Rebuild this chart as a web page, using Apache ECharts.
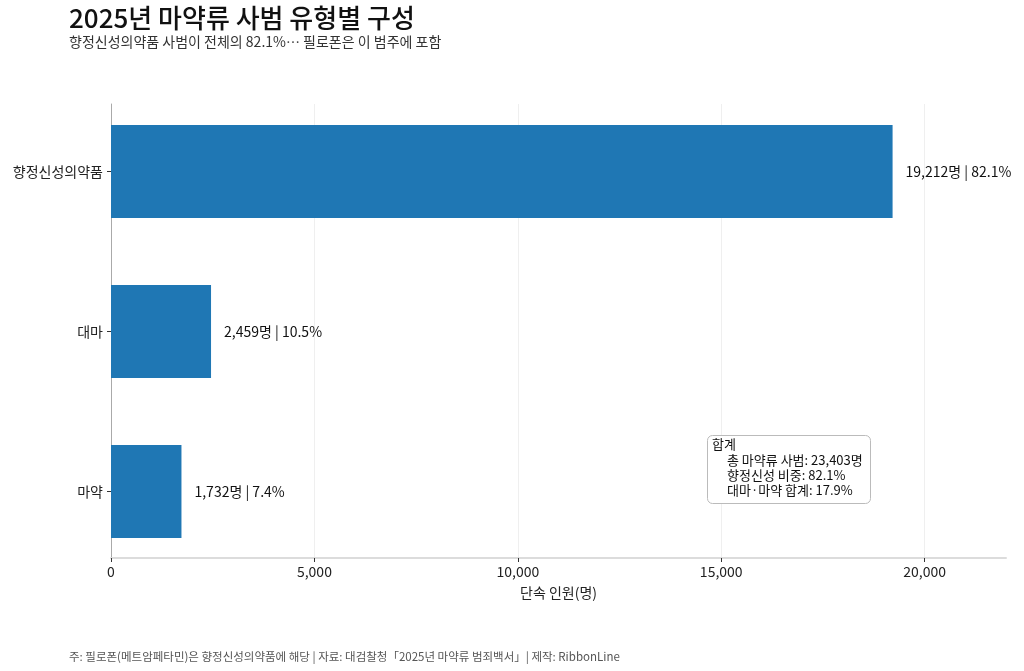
<html>
<head>
    <meta charset="utf-8" />
    <title>2025년 마약류 사범 유형별 구성</title>
    <script src="https://cdn.jsdelivr.net/npm/echarts@6/dist/echarts.min.js"></script>
    <style>
        body { margin: 0; background: #fff; }
        #chart { width: 1024px; height: 671px; }
    </style>
</head>
<body>
    <div id="chart"></div>
    <script type="text/javascript">
        // data (top -> bottom)
        var categories = ['향정신성의약품', '대마', '마약'];
        var offenders = [19212, 2459, 1732];
        var xTicks = [0, 5000, 10000, 15000, 20000];
        var totalOffenders = 23403;
        var noteLines = ['합계', '총 마약류 사범: 23,403명', '향정신성 비중: 82.1%', '대마·마약 합계: 17.9%'];

        var FONT = 'Noto Sans CJK KR';

        function fmt(n) {
            return n.toLocaleString('en-US');
        }

        // category axis goes bottom-up in echarts, so reverse
        var yCats = categories.slice().reverse();
        var yVals = offenders.slice().reverse();

        var chart = echarts.init(document.getElementById('chart'), null, { renderer: 'canvas' });

        var option = {
            backgroundColor: '#fff',
            animation: false,
            textStyle: { fontFamily: FONT },
            title: [
                {
                    text: '2025년 마약류 사범 유형별 구성',
                    subtext: '향정신성의약품 사범이 전체의 82.1%… 필로폰은 이 범주에 포함',
                    left: 64,
                    top: 0,
                    itemGap: 4,
                    textStyle: { fontFamily: FONT, fontSize: 26, fontWeight: 500, color: '#111' },
                    subtextStyle: { fontFamily: FONT, fontSize: 14, color: '#333' }
                },
                {
                    text: '주: 필로폰(메트암페타민)은 향정신성의약품에 해당 | 자료: 대검찰청「2025년 마약류 범죄백서」| 제작: RibbonLine',
                    left: 64,
                    top: 646,
                    textStyle: { fontFamily: FONT, fontSize: 11.5, fontWeight: 'normal', color: '#555' }
                }
            ],
            grid: [
                // bars grid (taller so bands line up with the padded axis)
                { left: 111, right: 18, top: 91.5, height: 480 },
                // frame grid: spines, ticks and gridlines
                { left: 111, right: 18, top: 104, height: 454 }
            ],
            xAxis: [
                {
                    gridIndex: 0, type: 'value', min: 0, max: 22000,
                    show: false
                },
                {
                    gridIndex: 1, type: 'value', min: 0, max: 22000, interval: 5000,
                    name: '단속 인원(명)',
                    nameLocation: 'middle',
                    nameGap: 28,
                    nameTextStyle: { fontFamily: FONT, fontSize: 14, color: '#222' },
                    axisLine: { show: true, lineStyle: { color: '#dcdcdc', width: 2 } },
                    axisTick: { show: true, length: 4, customValues: xTicks, lineStyle: { color: '#333' } },
                    axisLabel: {
                        fontFamily: FONT, fontSize: 14, color: '#222', margin: 7,
                        customValues: xTicks,
                        formatter: function (v) { return fmt(v); }
                    },
                    splitLine: { show: true, lineStyle: { color: '#efefef', width: 1 } }
                }
            ],
            yAxis: [
                {
                    gridIndex: 0, type: 'category', data: yCats,
                    axisLine: { show: false },
                    axisTick: { show: true, alignWithLabel: true, length: 4, lineStyle: { color: '#333' } },
                    axisLabel: { fontFamily: FONT, fontSize: 14, color: '#222', margin: 8 },
                    splitLine: { show: false }
                },
                {
                    gridIndex: 1, type: 'value', min: 0, max: 1,
                    axisLine: { show: true, lineStyle: { color: '#aaa', width: 1 } },
                    axisTick: { show: false },
                    axisLabel: { show: false },
                    splitLine: { show: false }
                }
            ],
            series: [
                {
                    type: 'bar',
                    xAxisIndex: 0,
                    yAxisIndex: 0,
                    data: yVals,
                    barWidth: 93,
                    itemStyle: { color: '#1f77b4' },
                    label: {
                        show: true,
                        position: 'right',
                        distance: 13,
                        fontFamily: FONT,
                        fontSize: 14,
                        color: '#111',
                        formatter: function (p) {
                            var pct = (p.value / totalOffenders * 100).toFixed(1);
                            return fmt(p.value) + '명 | ' + pct + '%';
                        }
                    }
                }
            ],
            graphic: [
                {
                    type: 'rect',
                    left: 707, top: 435,
                    shape: { width: 163, height: 68, r: 5 },
                    style: { fill: '#fff', stroke: '#bbb', lineWidth: 1 },
                    z: 10
                },
                {
                    type: 'text',
                    left: 712, top: 438,
                    style: { text: noteLines[0], font: '13px "' + FONT + '"', fill: '#111' },
                    z: 11
                },
                {
                    type: 'text',
                    left: 727, top: 453,
                    style: {
                        text: noteLines.slice(1).join('\n'),
                        font: '13px "' + FONT + '"', fill: '#111', lineHeight: 15
                    },
                    z: 11
                }
            ]
        };

        chart.setOption(option);
    </script>
</body>
</html>
